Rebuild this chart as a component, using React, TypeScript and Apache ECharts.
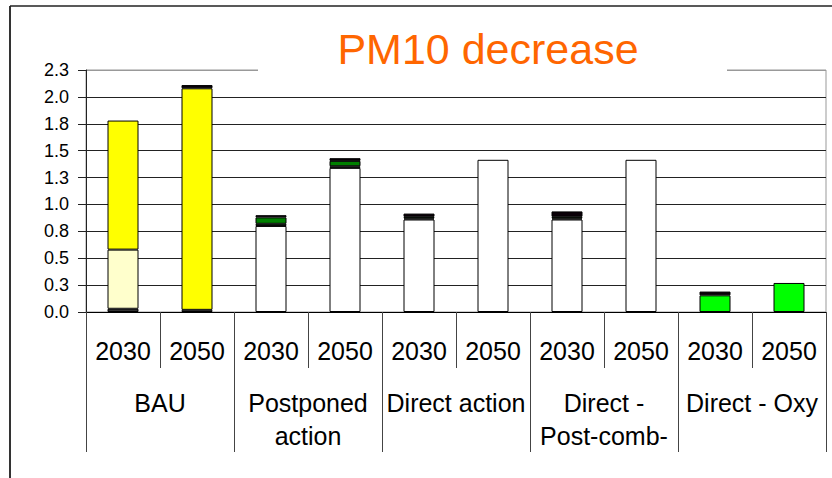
import React, { useEffect, useRef } from "react";
import * as echarts from "echarts";

// Categories
const years = ["2030", "2050", "2030", "2050", "2030", "2050", "2030", "2050", "2030", "2050"];
const groups = ["BAU", "Postponed\naction", "Direct action", "Direct -\nPost-comb-", "Direct - Oxy"];

// Stacked series values (bottom to top)
const darkBase = [0.03, 0, 0, 0, 0, 0, 0, 0, 0, 0];
const whiteBase = [0, 0.02, 0.8, 1.34, 0.86, 1.415, 0.86, 1.415, 0, 0];
const lightYellow = [0.55, 0, 0, 0, 0, 0, 0, 0, 0, 0];
const yellow = [1.2, 2.06, 0, 0, 0, 0, 0, 0, 0, 0];
const darkGreen = [0, 0, 0.02, 0.015, 0.01, 0, 0.01, 0, 0, 0];
const green = [0, 0, 0.06, 0.05, 0.015, 0, 0.015, 0, 0, 0];
const lime = [0, 0, 0, 0, 0, 0, 0, 0, 0.155, 0.27];
const blackTop = [0, 0.03, 0.02, 0.025, 0.03, 0, 0.05, 0, 0.035, 0];

// Y axis
const yMin = 0;
const yMax = 2.25;
const yStep = 0.25;

const FONT = "'Liberation Sans', Arial, sans-serif";

const seriesDefs = [
  { name: "Base", data: darkBase, color: "#333333" },
  { name: "Other", data: whiteBase, color: "#FFFFFF" },
  { name: "Light", data: lightYellow, color: "#FFFFCC" },
  { name: "Yellow", data: yellow, color: "#FFFF00" },
  { name: "DarkGreen", data: darkGreen, color: "#004400" },
  { name: "Green", data: green, color: "#008000" },
  { name: "Lime", data: lime, color: "#00FF00" },
  { name: "Top", data: blackTop, color: "#0a0008" },
];

export default function App() {
  const ref = useRef<HTMLDivElement>(null);
  useEffect(() => {
    if (!ref.current) return;
    const chart = echarts.init(ref.current, null, { renderer: "svg" });
    const splitColors: string[] = [];
    const nLines = Math.round((yMax - yMin) / yStep) + 1;
    for (let i = 0; i < nLines; i++) splitColors.push(i === nLines - 1 ? "#999999" : "#222222");
    chart.setOption({
      animation: false,
      backgroundColor: "#ffffff",
      grid: {
        left: 86,
        top: 70,
        width: 740,
        height: 242,
        show: true,
        borderColor: "#999999",
        borderWidth: 1,
        backgroundColor: "transparent",
      },
      graphic: [
        { type: "line", shape: { x1: 10, y1: 6, x2: 10, y2: 478 }, style: { stroke: "#333", lineWidth: 2 } },
        { type: "line", shape: { x1: 10, y1: 6, x2: 832, y2: 6 }, style: { stroke: "#222", lineWidth: 1.5 } },
        { type: "rect", shape: { x: 258, y: 60, width: 469, height: 18 }, style: { fill: "#ffffff" }, z: 100 },
        {
          type: "text",
          x: 488,
          y: 49,
          z: 101,
          style: {
            text: "PM10 decrease",
            fill: "#FF6600",
            fontSize: 43,
            fontFamily: FONT,
            align: "center",
            verticalAlign: "middle",
          },
        },
      ],
      xAxis: [
        {
          type: "category",
          data: years,
          position: "bottom",
          axisLine: { show: true, lineStyle: { color: "#000", width: 1 } },
          axisTick: { show: true, length: 56, interval: 0, lineStyle: { color: "#444", width: 1 } },
          axisLabel: {
            interval: 0,
            margin: 25,
            fontSize: 25,
            lineHeight: 28,
            color: "#000",
            fontFamily: FONT,
          },
          splitLine: { show: false },
        },
        {
          type: "category",
          data: groups,
          position: "bottom",
          gridIndex: 0,
          axisLine: { show: false },
          axisTick: { show: true, length: 140, interval: 0, lineStyle: { color: "#444", width: 1 } },
          axisLabel: {
            interval: 0,
            margin: 74,
            fontSize: 25,
            lineHeight: 33,
            color: "#000",
            fontFamily: FONT,
          },
          splitLine: { show: false },
        },
      ],
      yAxis: {
        type: "value",
        min: yMin,
        max: yMax,
        interval: yStep,
        axisLine: { show: true, lineStyle: { color: "#222", width: 1 } },
        axisTick: { show: true, length: 8, lineStyle: { color: "#222" } },
        axisLabel: {
          margin: 17,
          fontSize: 18,
          color: "#000",
          fontFamily: FONT,
          formatter: (v: number) => v.toFixed(1),
        },
        splitLine: { show: true, lineStyle: { color: splitColors, width: 1 } },
      },
      series: seriesDefs.map((s) => ({
        type: "bar",
        name: s.name,
        stack: "total",
        xAxisIndex: 0,
        barWidth: 31,
        data: s.data.map((v) => (v === 0 ? "-" : v)),
        itemStyle: { color: s.color, borderColor: "#000", borderWidth: 1 },
        emphasis: { disabled: true },
      })),
    });
    return () => chart.dispose();
  }, []);
  return (
    <div
      ref={ref}
      style={{ position: "fixed", left: 0, top: 0, width: 832, height: 478 }}
    />
  );
}
